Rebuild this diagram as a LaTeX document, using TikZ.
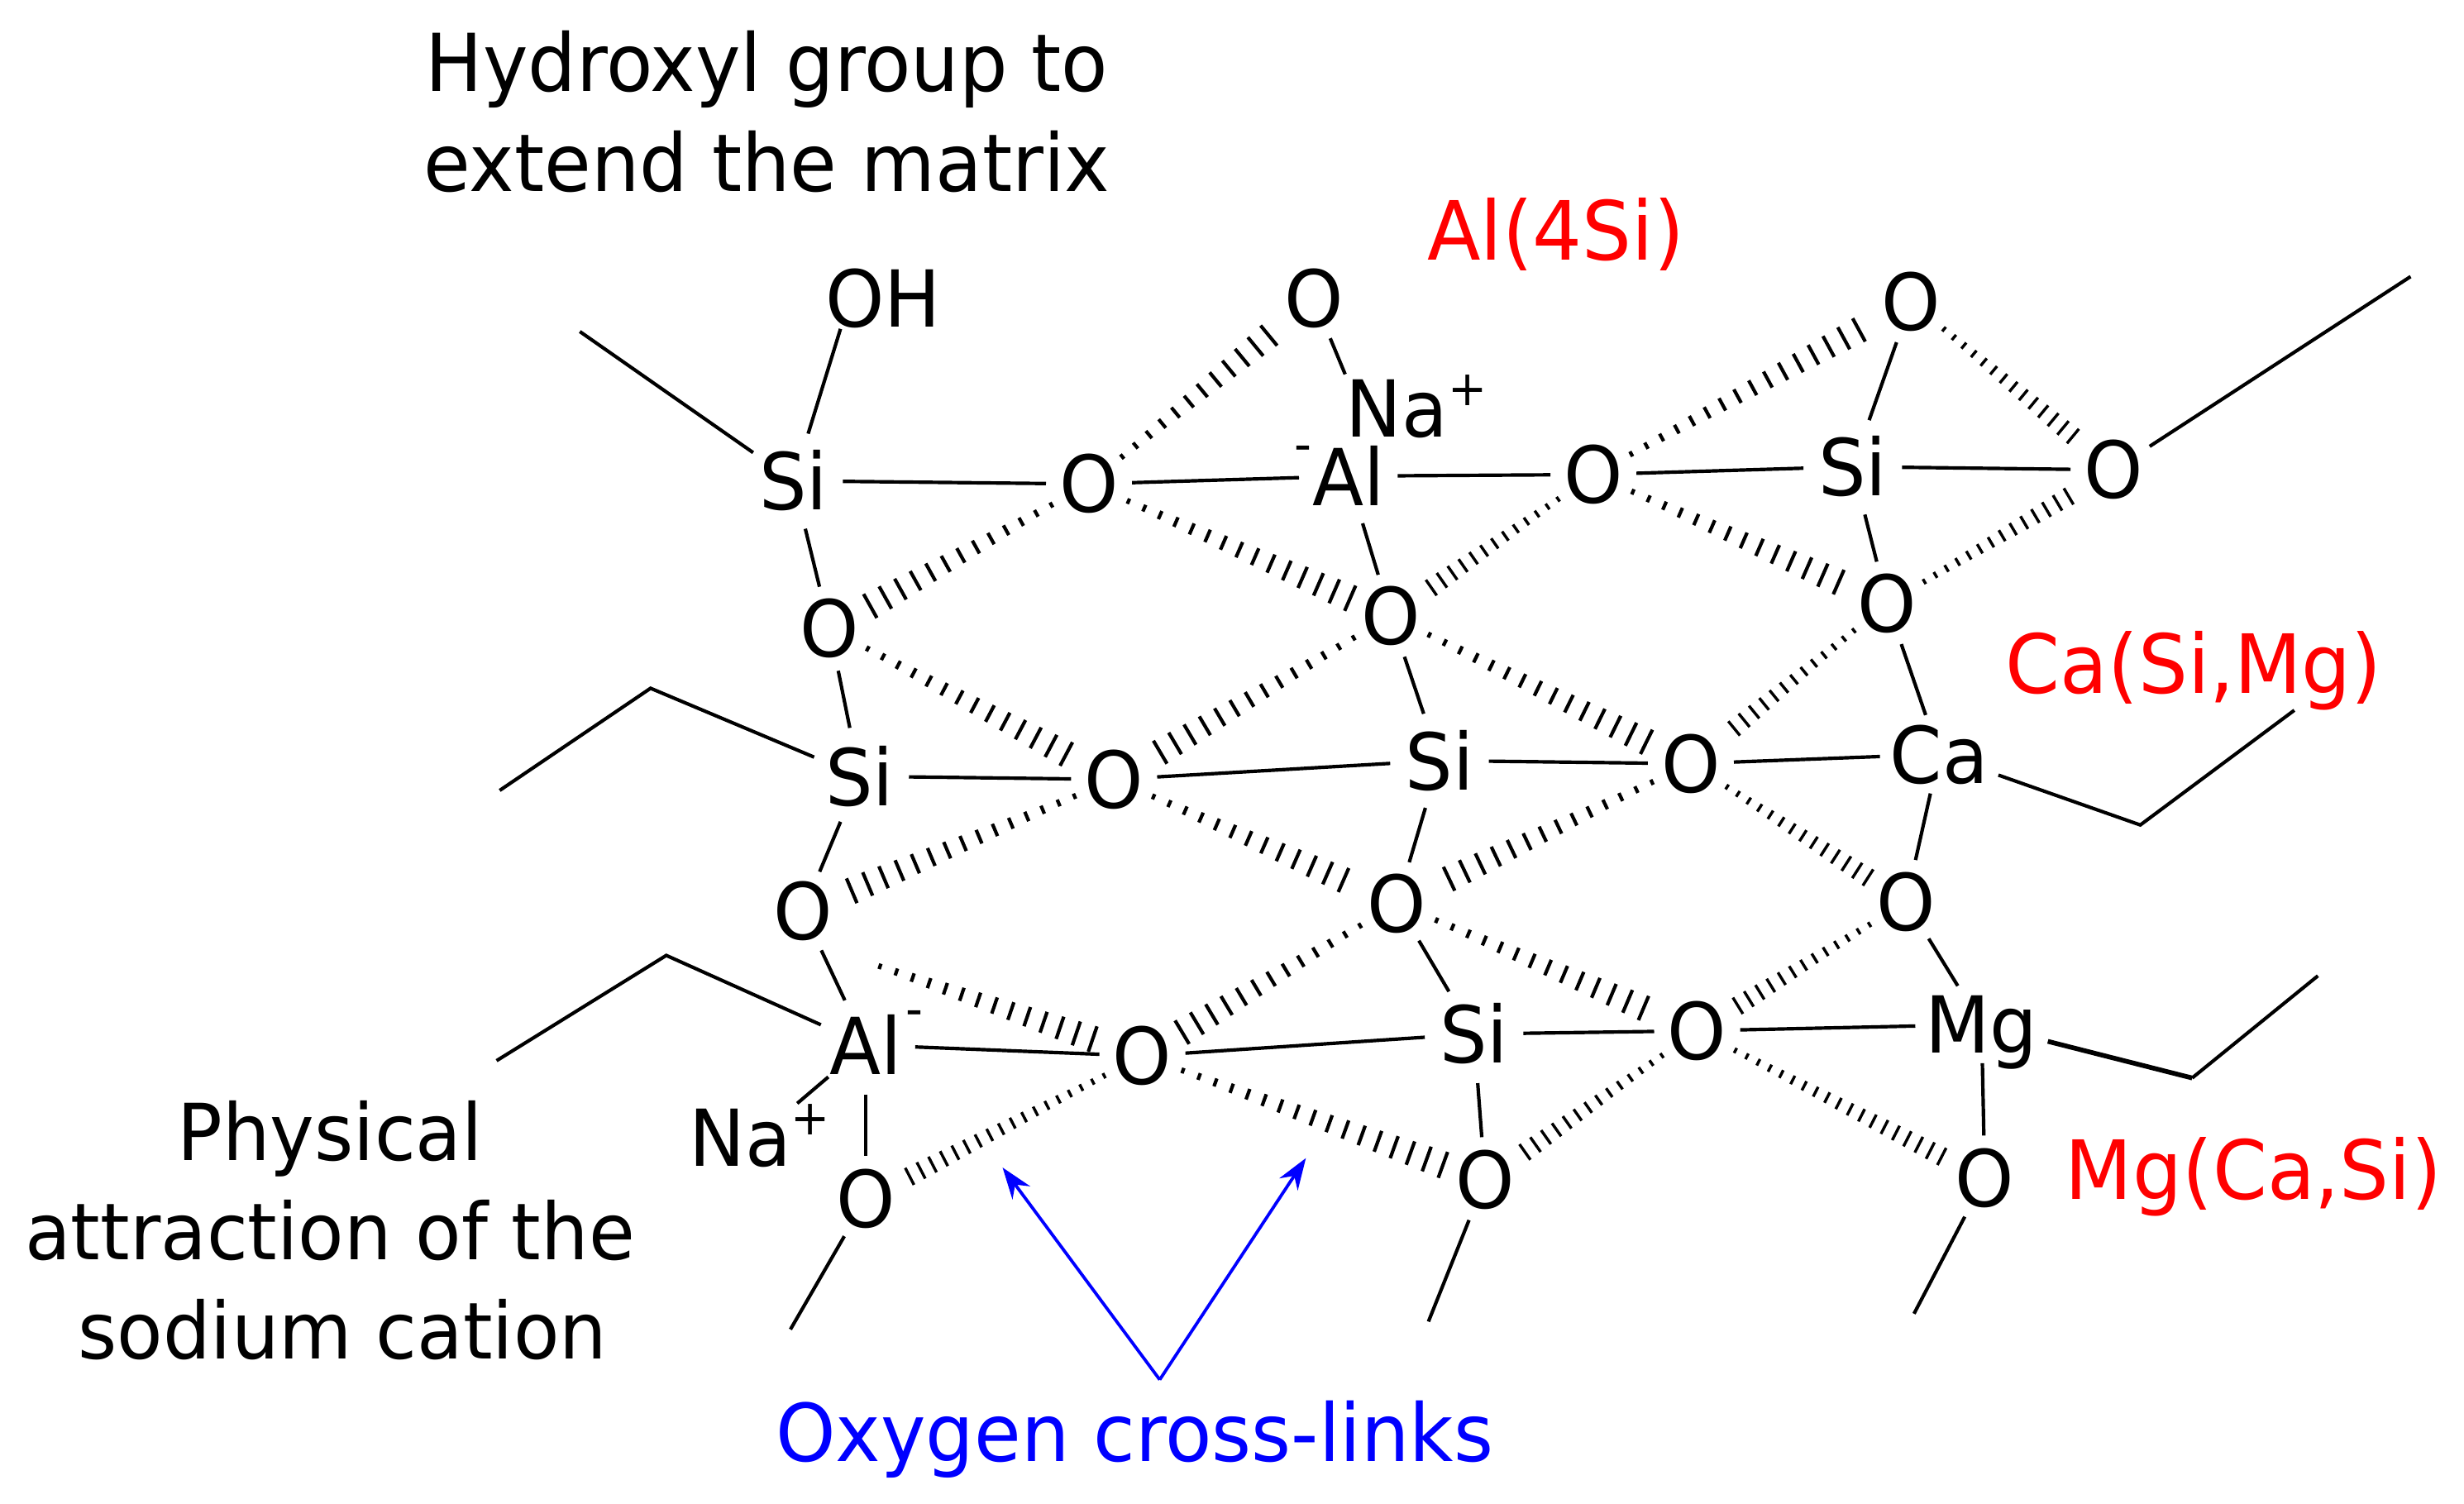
\documentclass[tikz,border=0pt]{standalone}
\usepackage{fontspec}
\setmainfont[FakeStretch=0.955]{DejaVu Sans}
\usetikzlibrary{decorations.markings,arrows.meta}
\newcommand{\supplus}{\raisebox{10pt}{\fontsize{15.5}{15.5}\selectfont +}}
\tikzset{
  x=0.5pt,y=-0.5pt,
  lab/.style={font=\fontsize{25}{25}\selectfont,inner sep=0pt,align=center},
  biglab/.style={lab,font=\fontsize{25.4}{25.4}\selectfont},
  redlab/.style={lab,font=\fontsize{26}{26}\selectfont,text=red},
  atomO/.style={lab,circle,minimum size=27pt},
  atomS/.style={lab,circle,minimum size=31pt},
  atomW/.style={lab,rectangle,inner xsep=3pt,inner ysep=3pt,text depth=0pt},
  bond/.style={line width=1.1pt,black},
  hashb/.style n args={3}{decoration={markings,mark=between positions 0 and 1 step #1 with {%
     \pgfmathsetmacro\hh{0.9+#2*\pgfkeysvalueof{/pgf/decoration/mark info/distance from start}/\pgfdecoratedpathlength}%
     \draw[line width=#3] (0,-\hh pt)--(0,\hh pt);}},postaction={decorate}},
  hash/.style={hashb={5.5pt}{3.5}{1.1pt}},
  hashthin/.style={hashb={4.1pt}{2.2}{0.9pt}},
}
\begin{document}
\begin{tikzpicture}
\useasboundingbox (0,0) rectangle (1568,956.6);
% top row
\node[lab] (oh) at (562,190) {OH};
\node[atomO] (ot) at (836,190) {O};
\node[atomS] (si1) at (505,306) {Si};
\node[atomO] (o1) at (693,308) {O};
\node[atomS] (al1) at (858,303) {Al};
\node[lab] (m1) at (829,289) {\fontsize{16}{16}\selectfont -};
\node[lab,anchor=base west] (na1) at (856,278) {Na\supplus};
\node[atomO] (o2) at (1014,302) {O};
\node[atomS] (si2) at (1179,297) {Si};
\node[atomO] (ort) at (1216,192) {O};
\node[atomO] (ofr) at (1345,299) {O};
% second row
\node[atomO] (ol) at (528,400) {O};
\node[atomO] (oc) at (885,392) {O};
\node[atomO] (or) at (1201,384) {O};
% third row
\node[atomS] (si3) at (547,494) {Si};
\node[atomO] (o3) at (709,496) {O};
\node[atomS] (si4) at (916,484) {Si};
\node[atomO] (o4) at (1076,486) {O};
\node[atomW] (ca) at (1234,480) {Ca};
% fourth row
\node[atomO] (o5) at (511,580) {O};
\node[atomO] (o6) at (889,575) {O};
\node[atomO] (o7) at (1213,574) {O};
% fifth row
\node[atomS] (al2) at (551,665) {Al};
\node[lab] (m2) at (582,648) {\fontsize{16}{16}\selectfont -};
\node[atomO] (o8) at (727,672) {O};
\node[atomS] (si5) at (938,658) {Si};
\node[atomO] (o9) at (1080,656) {O};
\node[atomW] (mg) at (1261,652) {Mg};
\node[lab,anchor=base west] (na2) at (438,742) {Na\supplus};
% bottom row
\node[atomO] (o10) at (551,763) {O};
\node[atomO] (o11) at (945,751) {O};
\node[atomO] (o12) at (1263,750) {O};
% free ends
\coordinate (t1) at (369,211);
\coordinate (t2a) at (414,438); \coordinate (t2) at (318,503);
\coordinate (t3a) at (424,608); \coordinate (t3) at (316,675);
\coordinate (t4) at (1534,176);
\coordinate (t5a) at (1362,525); \coordinate (t5) at (1460,452);
\coordinate (t6a) at (1395,686); \coordinate (t6) at (1475,621);
\coordinate (t7) at (503,846); \coordinate (t8) at (909,841); \coordinate (t9) at (1218,836);
\coordinate (h0) at (560,615);
% plain bonds
\foreach \a/\b in {si1/o1,o1/al1,al1/o2,o2/si2,si2/ofr,si2/ort,si2/or,al1/oc,si1/ol,ol/si3,si3/o3,o3/si4,si4/o4,o4/ca,or/ca,ca/o7,oc/si4,si4/o6,si3/o5,o5/al2,al2/o8,o8/si5,si5/o9,o9/mg,o6/si5,si5/o11,o7/mg,mg/o12,al2/o10,al2/na2}
  \draw[bond] (\a) -- (\b);
\draw[bond] ([xshift=5pt]oh.south west) -- (si1);
\draw[bond] (ot) -- (na1.north west);
\draw[bond] (si1) -- (t1);
\draw[bond] (si3) -- (t2a) -- (t2);
\draw[bond] (al2) -- (t3a) -- (t3);
\draw[bond] (ofr) -- (t4);
\draw[bond] (ca) -- (t5a) -- (t5);
\draw[bond,line width=1.5pt] (mg) -- (t6a);
\draw[bond] (t6a) -- (t6);
\draw[bond] (o10) -- (t7);
\draw[bond] (o11) -- (t8);
\draw[bond] (o12) -- (t9);
% hashed bonds: narrow end to wide end
\foreach \a/\b in {o1/ot,o1/ol,o1/oc,o2/ort,o2/or,ol/o3,oc/o3,oc/o4,o3/o5,o3/o6,o4/o6,o6/o8,o8/o11,o6/o9}
  \path[hash] (\a) -- (\b);
\foreach \a/\b in {o2/oc,ort/ofr,or/ofr,or/o4,o4/o7,o8/o10,o7/o9,o9/o11,o9/o12}
  \path[hashthin] (\a) -- (\b);
\path[hash] (h0) -- (o8);
% labels
\node[biglab] (hg) at (488,71) {Hydroxyl group to\\[6.6pt]extend the matrix};
\node[lab] (pa) at (210,783) {Physical\\[6.6pt]attraction of the\\[6.6pt]\hspace*{8pt}sodium cation};
\node[redlab] (l1) at (990,149) {Al(4Si)};
\node[redlab] (l2) at (1396,427) {Ca(Si,Mg)};
\node[redlab] (l3) at (1434,749) {Mg(Ca,Si)};
\node[biglab,text=blue] (ox) at (722,916) {Oxygen cross-links};
\coordinate (ap) at (738,878);
\coordinate (a1) at (638,743);
\coordinate (a2) at (831,737);
\draw[blue,line width=1pt,-{Stealth[length=10pt,width=7pt]}] (ap) -- (a1);
\draw[blue,line width=1pt,-{Stealth[length=10pt,width=7pt]}] (ap) -- (a2);
\end{tikzpicture}
\end{document}
